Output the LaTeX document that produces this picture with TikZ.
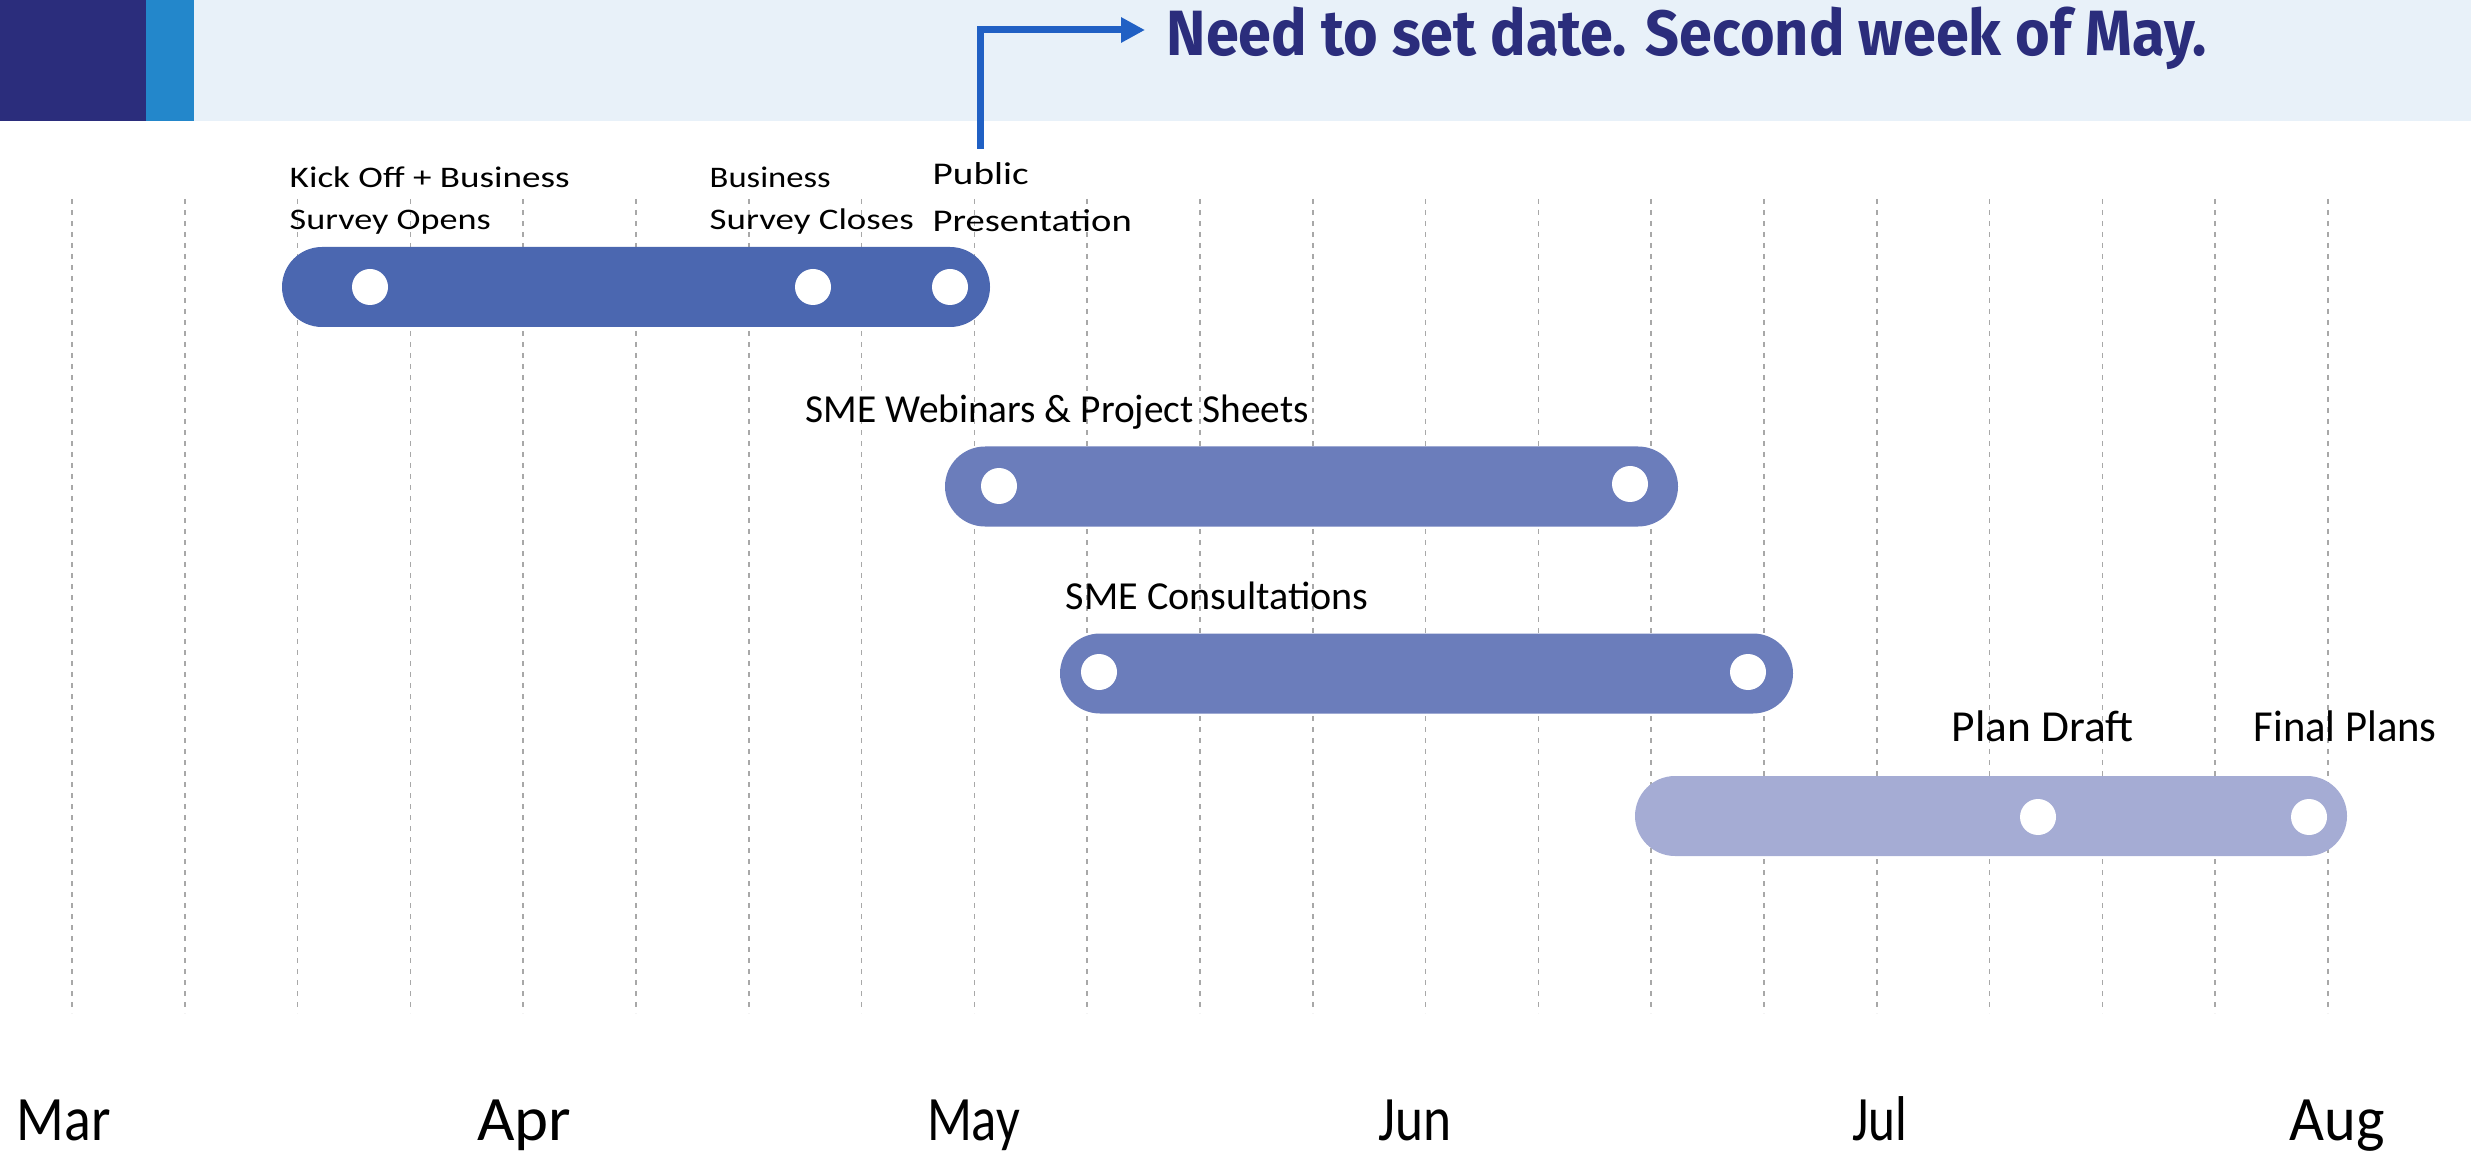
\documentclass[tikz,border=0pt]{standalone}
\usepackage{fontspec}
\usepackage{graphicx}
\setmainfont{Carlito}
\newfontfamily\headfont{Fira Sans}
\usetikzlibrary{arrows.meta}
\definecolor{navy}{HTML}{2B2D7C}
\definecolor{lblue}{HTML}{2387CB}
\definecolor{bandc}{HTML}{E8F1F9}
\definecolor{arrowc}{HTML}{2060C4}
\definecolor{barA}{HTML}{4B67B0}
\definecolor{barB}{HTML}{6B7DBB}
\definecolor{barC}{HTML}{A5ACD4}
\definecolor{gridc}{HTML}{A8A8A8}
\newcommand{\fitw}[2]{\resizebox{#1}{\height}{#2}}
\tikzset{
  gridline/.style={draw=gridc, line width=0.015cm, dash pattern=on 0.05cm off 0.06cm},
  barbox/.style={rectangle, rounded corners=0.4cm, minimum height=0.80cm, inner sep=0pt, draw=none},
  dotc/.style={circle, fill=white, minimum size=0.36cm, inner sep=0pt, draw=none},
  lbl/.style={anchor=base west, inner sep=0pt, text=black},
  month/.style={anchor=base, inner sep=0pt, text=black, font=\fontsize{18}{20}\selectfont},
  callout/.style={draw=arrowc, line width=0.07cm, -{Triangle[length=0.24cm,width=0.24cm]}}
}
\begin{document}
\begin{tikzpicture}[x=1cm,y=1cm]
\useasboundingbox (0,0) rectangle (24.71,-11.58);
% header band
\fill[bandc] (0,0) rectangle (24.71,-1.21);
\fill[navy] (0,0) rectangle (1.46,-1.21);
\fill[lblue] (1.46,0) rectangle (1.94,-1.21);
% grid
\foreach \i in {0,...,20} \draw[gridline] ({0.72+1.128*\i},-1.99) -- ({0.72+1.128*\i},-10.13);
% bars
\node[barbox, fill=barA, minimum width=7.08cm] (b1) at (6.36,-2.87) {};
\node[barbox, fill=barB, minimum width=7.33cm] (b2) at (13.115,-4.865) {};
\node[barbox, fill=barB, minimum width=7.33cm] (b3) at (14.265,-6.735) {};
\node[barbox, fill=barC, minimum width=7.12cm] (b4) at (19.91,-8.16) {};
% dots
\node[dotc] (d11) at (3.70,-2.87) {};
\node[dotc] (d12) at (8.13,-2.87) {};
\node[dotc] (d13) at (9.50,-2.87) {};
\node[dotc] (d21) at (9.99,-4.86) {};
\node[dotc] (d22) at (16.30,-4.84) {};
\node[dotc] (d31) at (10.99,-6.72) {};
\node[dotc] (d32) at (17.48,-6.72) {};
\node[dotc] (d41) at (20.38,-8.17) {};
\node[dotc] (d42) at (23.09,-8.17) {};
% labels
\node[lbl, font=\fontsize{8.5}{11.95}\selectfont] (kick) at (2.89,-1.88)
  {\begin{tabular}[t]{@{}l@{}}\fitw{2.80cm}{Kick Off + Business}\\\fitw{2.01cm}{Survey Opens}\end{tabular}};
\node[lbl, font=\fontsize{8.5}{11.95}\selectfont] (close) at (7.09,-1.88)
  {\begin{tabular}[t]{@{}l@{}}\fitw{1.21cm}{Business}\\\fitw{2.04cm}{Survey Closes}\end{tabular}};
\node[lbl, font=\fontsize{9}{13.09}\selectfont] (public) at (9.32,-1.85)
  {\begin{tabular}[t]{@{}l@{}}\fitw{0.96cm}{Public}\\\fitw{1.99cm}{Presentation}\end{tabular}};
\node[lbl, font=\fontsize{11.3}{13}\selectfont] (web) at (8.05,-4.23) {\fitw{5.03cm}{SME Webinars \& Project Sheets}};
\node[lbl, font=\fontsize{11.3}{13}\selectfont] (cons) at (10.65,-6.09) {\fitw{3.03cm}{SME Consultations}};
\node[lbl, font=\fontsize{12.6}{14}\selectfont] (draft) at (19.51,-7.41) {\fitw{1.82cm}{Plan Draft}};
\node[lbl, font=\fontsize{12.6}{14}\selectfont] (final) at (22.53,-7.41) {\fitw{1.83cm}{Final Plans}};
% months
\node[month] (mar) at (0.64,-11.40) {\fitw{0.94cm}{Mar}};
\node[month] (apr) at (5.24,-11.40) {\fitw{0.94cm}{Apr}};
\node[month] (may) at (9.735,-11.40) {\fitw{0.93cm}{May}};
\node[month] (jun) at (14.15,-11.40) {\fitw{0.73cm}{Jun}};
\node[month] (jul) at (18.80,-11.40) {\fitw{0.55cm}{Jul}};
\node[month] (aug) at (23.37,-11.40) {\fitw{0.95cm}{Aug}};
% headline and callout
\node[anchor=base west, inner sep=0pt, text=navy, font=\headfont\bfseries\fontsize{18.2}{20}\selectfont] (head) at (11.66,-0.56)
  {\fitw{10.40cm}{Need to set date. Second week of May.}};
\coordinate (astart) at (9.80,-1.49);
\coordinate (atip) at (11.45,-0.30);
\draw[callout] (astart) |- (atip);
\end{tikzpicture}
\end{document}
